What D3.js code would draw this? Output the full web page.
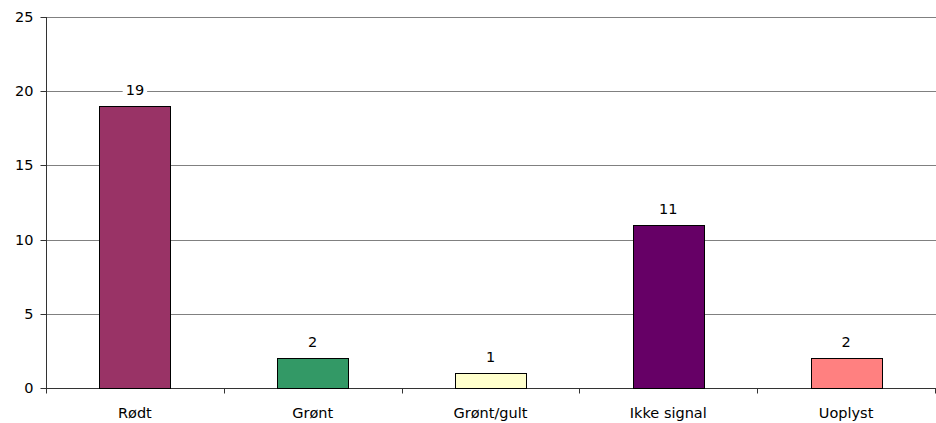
<!DOCTYPE html>
<html><head><meta charset="utf-8">
<script src="https://cdn.jsdelivr.net/npm/d3@7"></script>
<style>body{margin:0;background:#fff}svg{display:block}text{font-family:"DejaVu Sans",sans-serif;font-size:14.5px;fill:#000}</style>
</head><body><svg id="c" width="936" height="423"></svg>
<script>
const categories = ["Rødt","Grønt","Grønt/gult","Ikke signal","Uoplyst"];
const values = [19,2,1,11,2];
const colors = ["#993366","#339966","#FFFFCC","#660066","#FF8080"];
const yTicks = [0,5,10,15,20,25];

const svg = d3.select("#c");
const L=46, R=935, T=17, B=388;
const FS="14.5px";
const x = d3.scaleBand().domain(categories).range([L,R]).paddingInner(0).paddingOuter(0);
const y = d3.scaleLinear().domain([0,25]).range([B,T]);

// gridlines
svg.append("g").selectAll("line").data(yTicks.filter(d=>d>0)).join("line")
  .attr("x1",L).attr("x2",R+1).attr("y1",d=>Math.round(y(d))+0.5).attr("y2",d=>Math.round(y(d))+0.5)
  .attr("stroke","#808080").attr("stroke-width",1);

// y axis
const ya = svg.append("g").attr("transform",`translate(${L+0.5},0)`)
  .call(d3.axisLeft(y).tickValues(yTicks).tickSize(6).tickPadding(7).tickFormat(d3.format("d")));
ya.select(".domain").attr("stroke","#333").attr("d",`M0,${T}V${B}`);
ya.selectAll(".tick line").attr("stroke","#333");
ya.selectAll("text").style("font-family",'"DejaVu Sans",sans-serif').style("font-size",FS).attr("fill","#000");
ya.selectAll(".tick").attr("transform",d=>`translate(0,${Math.round(y(d))+0.5})`);

// x axis
const xa = svg.append("g").attr("transform",`translate(0,${B+0.5})`);
xa.append("line").attr("x1",L).attr("x2",R+1).attr("stroke","#333");
const bounds = categories.map((c,i)=>x(c)).concat([R]);
xa.selectAll(".tk").data(bounds).join("line").attr("class","tk")
  .attr("x1",d=>Math.round(d)+0.5).attr("x2",d=>Math.round(d)+0.5).attr("y1",0).attr("y2",5).attr("stroke","#333");
xa.selectAll("text").data(categories).join("text")
  .attr("x",d=>x(d)+x.bandwidth()/2).attr("y",29).attr("text-anchor","middle").text(d=>d);

// bars
const bw = x.bandwidth()*0.4;
svg.append("g").selectAll("rect").data(values).join("rect")
  .attr("x",(d,i)=>Math.round(x(categories[i])+x.bandwidth()/2-bw/2)+0.5)
  .attr("width",Math.round(bw))
  .attr("y",d=>Math.round(y(d))+0.5)
  .attr("height",d=>Math.round(B-y(d)))
  .attr("fill",(d,i)=>colors[i]).attr("stroke","#000").attr("stroke-width",1);

// labels with white background
const lg = svg.append("g").selectAll("g").data(values).join("g")
  .attr("transform",(d,i)=>`translate(${x(categories[i])+x.bandwidth()/2},${y(d)-11})`);
lg.append("text").attr("text-anchor","middle").text(d=>d);
lg.each(function(){
  const g=d3.select(this); const bb=g.select("text").node().getBBox();
  g.insert("rect","text").attr("x",bb.x-3).attr("y",bb.y).attr("width",bb.width+6).attr("height",bb.height).attr("fill","#fff");
});
</script></body></html>
